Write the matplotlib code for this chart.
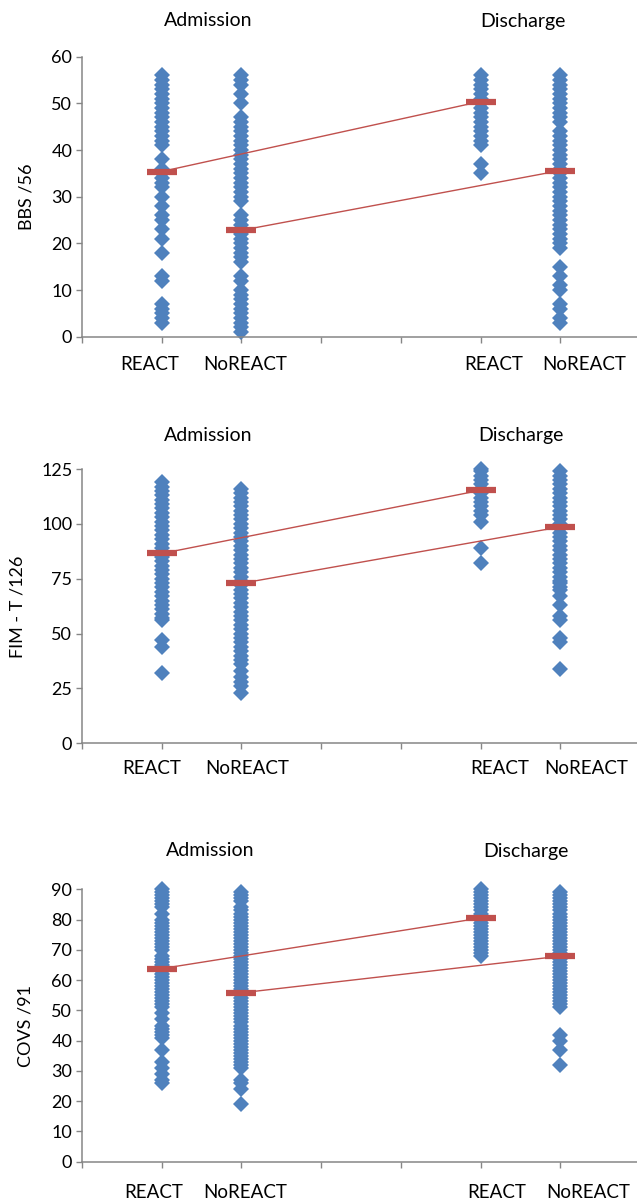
import numpy as np
import matplotlib
matplotlib.use("Agg")
import matplotlib.pyplot as plt

plt.rcParams['font.family'] = ['Lato', 'DejaVu Sans']

W, H = 637, 1203

# x positions of the four groups (admission REACT / NoREACT, discharge REACT / NoREACT)
positions = [1, 2, 5, 6]
group_labels = ['REACT', 'NoREACT', 'REACT', 'NoREACT']

# --- BBS /56 ---
bbs_adm_react = [56, 55, 54, 53, 52, 51, 50, 49, 48, 47, 46, 45, 44, 43, 42, 41, 38, 36, 35, 34,
                 33, 32, 30, 28, 26, 25, 23, 21, 18, 13, 12, 7, 6, 5, 4, 3]
bbs_adm_noreact = [56, 55, 54, 52, 50, 47, 46, 45, 44, 43, 42, 41, 40, 39, 38, 37, 36, 35, 34, 33,
                   32, 31, 30, 29, 26, 25, 24, 23, 22, 21, 20, 19, 18, 17, 16, 13, 12, 10, 9, 8,
                   7, 6, 5, 4, 3, 2, 1]
bbs_dis_react = [56, 55, 54, 53, 52, 51, 50, 49, 48, 47, 46, 45, 44, 43, 42, 41, 37, 35]
bbs_dis_noreact = [56, 55, 54, 53, 52, 51, 50, 49, 48, 47, 46, 44, 43, 42, 41, 40, 39, 38, 37, 36,
                   35, 34, 33, 32, 31, 30, 29, 28, 27, 26, 25, 24, 23, 22, 21, 20, 19, 15, 13, 11,
                   10, 7, 6, 4, 3]
bbs_means = [35.4, 22.8, 50.4, 35.6]

# --- FIM - T /126 ---
fim_adm_react = [119, 117, 115, 113, 111, 109, 107, 105, 103, 101, 99, 97, 95, 93, 91, 89, 87, 85,
                 83, 81, 79, 77, 75, 73, 71, 69, 67, 65, 63, 61, 59, 57, 56, 47, 44, 32]
fim_adm_noreact = [116, 114, 112, 110, 108, 106, 104, 102, 100, 98, 96, 94, 92, 90, 88, 86, 84, 82,
                   80, 78, 76, 74, 72, 70, 68, 66, 64, 62, 60, 58, 56, 54, 52, 50, 48, 46, 44, 42,
                   40, 38, 36, 33, 30, 28, 26, 23]
fim_dis_react = [125, 124, 122, 120, 118, 116, 114, 112, 110, 108, 106, 104, 101, 89, 82]
fim_dis_noreact = [124, 122, 120, 118, 116, 114, 112, 110, 108, 106, 104, 102, 100, 98, 96, 94, 92,
                   90, 88, 86, 84, 82, 80, 78, 76, 74, 73, 71, 70, 67, 63, 58, 56, 48, 46, 34]
fim_means = [86.5, 72.9, 115.3, 98.6]

# --- COVS /91 ---
covs_adm_react = [90, 89, 88, 87, 86, 85, 84, 82, 80, 79, 78, 77, 76, 75, 74, 73, 72, 71, 70, 68,
                  67, 66, 65, 64, 63, 62, 61, 60, 59, 58, 57, 56, 55, 54, 53, 52, 51, 49, 47, 45,
                  44, 43, 42, 41, 37, 33, 31, 29, 27, 26]
covs_adm_noreact = [89, 88, 87, 86, 84, 83, 82, 81, 80, 79, 78, 77, 76, 75, 74, 73, 72, 71, 70, 69,
                    68, 67, 66, 65, 64, 63, 62, 61, 60, 59, 58, 57, 56, 55, 54, 53, 52, 51, 50, 49,
                    48, 47, 46, 45, 44, 43, 42, 41, 40, 39, 38, 37, 36, 35, 34, 33, 32, 31, 27, 26,
                    24, 19]
covs_dis_react = [90, 89, 88, 87, 86, 85, 84, 83, 82, 81, 80, 79, 78, 77, 76, 75, 74, 73, 72, 71,
                  70, 69, 68]
covs_dis_noreact = [89, 88, 87, 86, 85, 84, 83, 82, 81, 80, 79, 78, 77, 76, 75, 74, 73, 72, 71, 70,
                    69, 68, 67, 66, 65, 64, 63, 62, 61, 60, 59, 58, 57, 56, 55, 54, 53, 52, 51,
                    42, 40, 37, 32]
covs_means = [63.8, 55.8, 80.5, 67.9]

panels = [
    dict(data=[bbs_adm_react, bbs_adm_noreact, bbs_dis_react, bbs_dis_noreact], means=bbs_means,
         ylim=60, step=10, ylabel='BBS /56', zero_px=336.7, top_px=56.7,
         ylabel_xy=(27, 197), adm_xy=(208, 20), dis_xy=(523, 21), lab_y=364,
         lab_x=[150, 245, 494, 584]),
    dict(data=[fim_adm_react, fim_adm_noreact, fim_dis_react, fim_dis_noreact], means=fim_means,
         ylim=125, step=25, ylabel='FIM - T /126', zero_px=743.3, top_px=469.0,
         ylabel_xy=(18, 607), adm_xy=(208, 436), dis_xy=(521, 435), lab_y=768,
         lab_x=[152, 247, 500, 586]),
    dict(data=[covs_adm_react, covs_adm_noreact, covs_dis_react, covs_dis_noreact], means=covs_means,
         ylim=90, step=10, ylabel='COVS /91', zero_px=1161.7, top_px=889.3,
         ylabel_xy=(26, 1026), adm_xy=(210, 851), dis_xy=(526, 852), lab_y=1192,
         lab_x=[154, 245, 497, 588]),
]

blue = '#4F81BD'
red = '#C0504D'
axis_grey = '#868686'

fig = plt.figure(figsize=(W / 100, H / 100), dpi=100)

left_px, right_px = 82, 640
for p in panels:
    ax = fig.add_axes([left_px / W, 1 - p['zero_px'] / H,
                       (right_px - left_px) / W, (p['zero_px'] - p['top_px']) / H])
    for x, vals in zip(positions, p['data']):
        ax.plot(np.full(len(vals), x), vals, 'D', ms=8, color=blue, mew=0, clip_on=False, zorder=2)
    m = p['means']
    ax.plot([positions[0], positions[2]], [m[0], m[2]], color=red, lw=1.0, zorder=3)
    ax.plot([positions[1], positions[3]], [m[1], m[3]], color=red, lw=1.0, zorder=3)
    ax.plot(positions, m, ls='none', marker='_', ms=22, mew=4.5, color=red, zorder=4, clip_on=False)

    ax.set_xlim(0, 7)
    ax.set_ylim(0, p['ylim'])
    ax.set_xticks(range(0, 7))
    ax.set_xticklabels([])
    ax.set_yticks(np.arange(0, p['ylim'] + 1, p['step']))
    ax.tick_params(axis='both', direction='out', length=4, width=1.0, color=axis_grey,
                   labelsize=13, labelcolor='black')
    ax.tick_params(axis='y', pad=3)
    for s in ['top', 'right']:
        ax.spines[s].set_visible(False)
    for s in ['left', 'bottom']:
        ax.spines[s].set_color(axis_grey)
        ax.spines[s].set_linewidth(1.1)

    fig.text(p['ylabel_xy'][0] / W, 1 - p['ylabel_xy'][1] / H, p['ylabel'], rotation=90,
             ha='center', va='center', fontsize=13)
    fig.text(p['adm_xy'][0] / W, 1 - p['adm_xy'][1] / H, 'Admission', ha='center', va='center', fontsize=14)
    fig.text(p['dis_xy'][0] / W, 1 - p['dis_xy'][1] / H, 'Discharge', ha='center', va='center', fontsize=14)
    for lx, lab in zip(p['lab_x'], group_labels):
        fig.text(lx / W, 1 - p['lab_y'] / H, lab, ha='center', va='center', fontsize=13.5)

fig.savefig('out.png', dpi=100)
